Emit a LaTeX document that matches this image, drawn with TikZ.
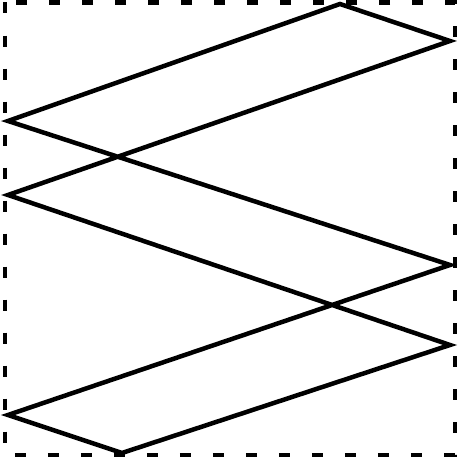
\documentclass[tikz,border=0pt]{standalone}
\usetikzlibrary{positioning}

\begin{document}
\begin{tikzpicture}[x=0.01cm,y=-0.01cm,
	frame/.style={draw,line width=0.045cm,dash pattern=on 0.11cm off 0.22cm},
	band/.style={draw,line width=0.045cm}]
\useasboundingbox (0,0) rectangle (460,459);
\draw [frame] (5,2.5) rectangle (455,455);
\coordinate (t) at (340,4);
\coordinate (r1) at (450,41);
\coordinate (l2) at (8,195);
\coordinate (r3) at (450,345);
\coordinate (b) at (122,453);
\coordinate (l3) at (8,415);
\coordinate (r2) at (450,265);
\coordinate (l1) at (8,121);
\draw [band] (t)--(r1)--(l2)--(r3)--(b)--(l3)--(r2)--(l1)--cycle;
\end{tikzpicture}
\end{document}
